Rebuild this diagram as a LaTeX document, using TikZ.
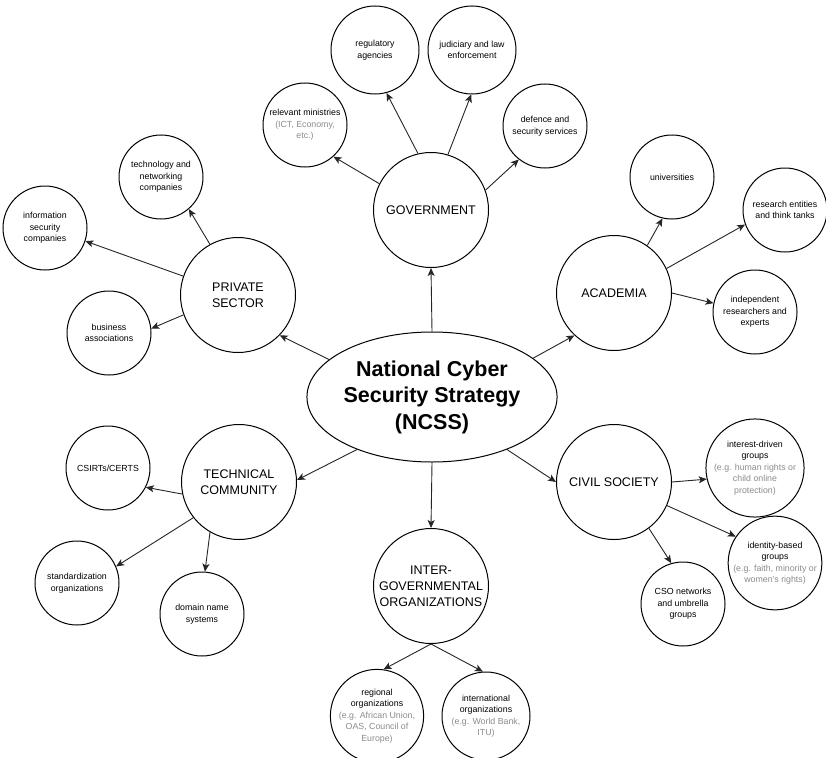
\documentclass[tikz,border=0pt]{standalone}
\usepackage{fontspec}
\setmainfont{Liberation Sans}
\usetikzlibrary{arrows.meta,shapes.geometric}
\definecolor{gtext}{HTML}{8C8C8C}
\definecolor{edgec}{HTML}{262626}
\newcommand{\grtxt}[1]{{\color{gtext}#1}}
\tikzset{
  hub/.style={circle,draw=black,line width=1pt,minimum size=115pt,inner sep=0pt,align=center,
    font=\fontsize{12.5}{16}\selectfont},
  leaf/.style={circle,draw=black,line width=1pt,minimum size=84pt,inner sep=0pt,align=center,
    font=\fontsize{8.8}{11.5}\selectfont},
  bigleaf/.style={leaf,minimum size=88pt},
  core/.style={ellipse,draw=black,line width=1pt,minimum width=200pt,minimum height=130pt,inner sep=0pt,
    align=center,font=\fontsize{21.5}{26.5}\selectfont\bfseries},
  conn/.style={draw=edgec,line width=0.9pt,-{Stealth[length=8pt,width=7pt,inset=2pt]}}
}
\begin{document}
\begin{tikzpicture}[x=1pt,y=-1pt]
\useasboundingbox[fill=white] (0,0) rectangle (826,757);

% core
\node[core] (ncss) at (432,397) {National Cyber\\Security Strategy\\(NCSS)};

% hubs
\node[hub] (gov) at (431,210) {GOVERNMENT};
\node[hub] (priv) at (238,295) {PRIVATE\\SECTOR};
\node[hub] (acad) at (614,293) {ACADEMIA};
\node[hub] (tech) at (239,482) {TECHNICAL\\COMMUNITY};
\node[hub] (civil) at (614,482) {CIVIL SOCIETY};
\node[hub] (inter) at (431,586) {INTER-\\GOVERNMENTAL\\ORGANIZATIONS};

% government leaves
\node[bigleaf] (reg) at (375,50) {regulatory\\agencies};
\node[bigleaf] (jud) at (472,50) {judiciary and law\\enforcement};
\node[leaf] (rel) at (305,125) {relevant ministries\\\grtxt{(ICT, Economy,}\\\grtxt{etc.)}};
\node[leaf] (def) at (545,126) {defence and\\security services};

% private sector leaves
\node[leaf] (technet) at (161,177) {technology and\\networking\\companies};
\node[leaf] (info) at (45,228) {information\\security\\companies};
\node[leaf] (bus) at (109,333) {business\\associations};

% academia leaves
\node[leaf] (uni) at (672,177) {universities};
\node[leaf] (res) at (785,210) {research entities\\and think tanks};
\node[leaf] (ind) at (755,312) {independent\\researchers and\\experts};

% technical community leaves
\node[leaf] (csirt) at (108,468) {CSIRTs/CERTS};
\node[leaf] (std) at (77,583) {standardization\\organizations};
\node[leaf] (dom) at (202,614) {domain name\\systems};

% civil society leaves
\node[leaf] (intr) at (755,468) {interest-driven\\groups\\\grtxt{(e.g. human rights or}\\\grtxt{child online}\\\grtxt{protection)}};
\node[leaf] (iden) at (775,563) {identity-based\\groups\\\grtxt{(e.g. faith, minority or}\\\grtxt{women's rights)}};
\node[leaf] (cso) at (683,604) {CSO networks\\and umbrella\\groups};

% intergovernmental leaves
\node[bigleaf] (regl) at (377,716) {regional\\organizations\\\grtxt{(e.g. African Union,}\\\grtxt{OAS, Council of}\\\grtxt{Europe)}};
\node[bigleaf] (intl) at (486,716) {international\\organizations\\\grtxt{(e.g. World Bank,}\\\grtxt{ITU)}};

% core to hubs
\draw[conn] (ncss.90) -- (gov.270);
\draw[conn] (ncss.160) -- (priv.316);
\draw[conn] (ncss.21) -- (acad.227);
\draw[conn] (ncss.215) -- (tech.2);
\draw[conn] (ncss.325) -- (civil.180);
\draw[conn] (ncss.270) -- (inter.90);

% government
\draw[conn] (gov.153) -- (rel.312);
\draw[conn] (gov.103) -- (reg.285);
\draw[conn] (gov.73) -- (jud.269);
\draw[conn] (gov.20) -- (def.232);

% private
\draw[conn] (priv.161) -- (info.342);
\draw[conn] (priv.119) -- (technet.311);
\draw[conn] (priv.200) -- (bus.6);

% academia
\draw[conn] (acad.55) -- (uni.257);
\draw[conn] (acad.25) -- (res.200);
\draw[conn] (acad.0) -- (ind.168);

% technical
\draw[conn] (tech.192) -- (csirt.333);
\draw[conn] (tech.218) -- (std.23);
\draw[conn] (tech.240) -- (dom.86);

% civil
\draw[conn] (civil.0) -- (intr.193);
\draw[conn] (civil.336) -- (iden.146);
\draw[conn] (civil.307) -- (cso.106);

% intergovernmental
\draw[conn] (inter.270) -- (regl.82);
\draw[conn] (inter.270) -- (intl.94);
\end{tikzpicture}
\end{document}
